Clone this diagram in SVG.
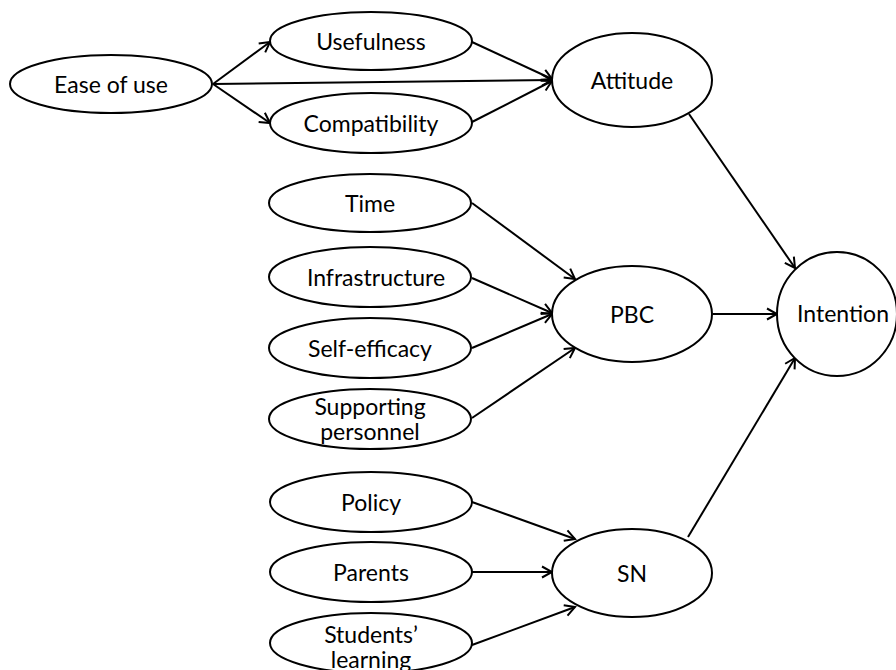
<svg xmlns="http://www.w3.org/2000/svg" width="896" height="670" viewBox="0 0 896 670">
<defs>
<marker id="arr" markerUnits="userSpaceOnUse" markerWidth="14" markerHeight="14" viewBox="0 0 14 14" refX="12" refY="7" orient="auto">
<path d="M2,1.5 L12,7 L2,12.5" fill="none" stroke="#000" stroke-width="2"/>
</marker>
<style>
ellipse{fill:#fff;stroke:#000;stroke-width:2}
text{font-family:Lato,"Liberation Sans",sans-serif;font-size:23px;fill:#000;text-anchor:middle;dominant-baseline:central}
#connectors line{stroke:#000;stroke-width:2;marker-end:url(#arr)}
</style>
</defs>
<rect width="896" height="670" fill="#fff"/>
<g id="connectors">
<line x1="213" y1="84" x2="270" y2="42"/>
<line x1="213" y1="84" x2="552" y2="80"/>
<line x1="213" y1="84" x2="270" y2="123"/>
<line x1="472" y1="42" x2="552" y2="79"/>
<line x1="472" y1="122" x2="552" y2="81"/>
<line x1="689" y1="114" x2="795" y2="268"/>
<line x1="472" y1="203" x2="575" y2="279"/>
<line x1="472" y1="278" x2="552" y2="313"/>
<line x1="472" y1="348" x2="552" y2="314"/>
<line x1="472" y1="418" x2="575" y2="348"/>
<line x1="713" y1="314" x2="777" y2="314"/>
<line x1="472" y1="502" x2="575" y2="539"/>
<line x1="472" y1="572" x2="552" y2="572"/>
<line x1="472" y1="645" x2="575" y2="607"/>
<line x1="688" y1="537" x2="795" y2="358"/>
</g>
<g id="ease"><ellipse cx="111" cy="84" rx="101" ry="29"/><text x="111" y="84">Ease of use</text></g>
<g id="usefulness"><ellipse cx="371" cy="41" rx="101" ry="29"/><text x="371" y="41">Usefulness</text></g>
<g id="compatibility"><ellipse cx="371" cy="123" rx="101" ry="30"/><text x="371" y="123">Compatibility</text></g>
<g id="attitude"><ellipse cx="632" cy="80" rx="80" ry="47"/><text x="632" y="80">Attitude</text></g>
<g id="time"><ellipse cx="370" cy="203" rx="101" ry="29"/><text x="370" y="203">Time</text></g>
<g id="infrastructure"><ellipse cx="370" cy="277" rx="101" ry="30"/><text x="376" y="277">Infrastructure</text></g>
<g id="selfefficacy"><ellipse cx="370" cy="348" rx="101" ry="30"/><text x="370" y="348">Self-efficacy</text></g>
<g id="supporting"><ellipse cx="370" cy="419" rx="101" ry="30"/><text x="370" y="406">Supporting</text><text x="370" y="431">personnel</text></g>
<g id="pbc"><ellipse cx="632" cy="314" rx="80" ry="48"/><text x="632" y="314">PBC</text></g>
<g id="intention"><ellipse cx="837" cy="314" rx="60" ry="62"/><text x="843" y="313">Intention</text></g>
<g id="policy"><ellipse cx="371" cy="502" rx="101" ry="30"/><text x="371" y="502">Policy</text></g>
<g id="parents"><ellipse cx="371" cy="572" rx="101" ry="30"/><text x="371" y="572">Parents</text></g>
<g id="students"><ellipse cx="371" cy="643" rx="101" ry="30"/><text x="371" y="634">Students’</text><text x="371" y="659">learning</text></g>
<g id="sn"><ellipse cx="632" cy="573" rx="80" ry="44"/><text x="632" y="573">SN</text></g>
</svg>
